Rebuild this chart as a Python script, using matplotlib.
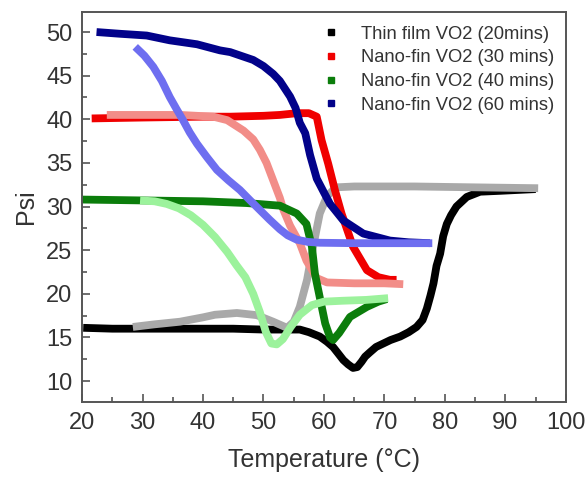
import matplotlib
matplotlib.use("Agg")
import matplotlib.pyplot as plt
from matplotlib.lines import Line2D
from matplotlib.ticker import MultipleLocator

plt.rcParams['font.family'] = ['Liberation Sans', 'DejaVu Sans']

# Thin film VO2 (20 mins) - heating (black) / cooling (gray)
tf_heat_x = [20.2, 25, 30, 35, 40, 45, 50, 54, 56.0, 57.5, 59.3, 60.5, 61.5, 62.3, 63.2, 64.0, 64.8, 65.5, 66.2,
             66.8, 67.6, 68.6, 69.8, 71.0, 72.6, 74.0, 75.3, 76.3, 77.0, 77.6, 78.1, 78.6, 79.2, 79.7, 80.3,
             81.0, 81.9, 83.6, 85.8, 89.1, 92.0, 95.0]
tf_heat_y = [16.1, 16.0, 16.0, 16.0, 16.0, 16.0, 15.9, 15.9, 15.9, 15.6, 15.1, 14.5, 13.9, 13.2, 12.4, 11.9, 11.5, 11.6, 12.2,
             12.8, 13.3, 13.9, 14.3, 14.7, 15.1, 15.6, 16.2, 17.0, 18.3, 19.8, 21.2, 23.2, 24.6, 26.6, 28.0,
             29.0, 30.0, 31.1, 31.7, 31.8, 31.9, 32.0]
tf_cool_x = [28.4, 32, 36.2, 40, 42, 45.6, 48.9, 51.6, 53.9, 55.0, 56.0, 57.2, 58.2, 59.3, 60.5, 62.0, 65, 75, 85, 95.4]
tf_cool_y = [16.2, 16.5, 16.8, 17.3, 17.6, 17.8, 17.55, 16.8, 16.1, 16.8, 18.5, 21.6, 25.4, 29.2, 31.2, 32.2, 32.3, 32.3, 32.2, 32.1]

# Nano-fin VO2 (30 mins) - heating (red) / cooling (salmon)
nf30_heat_x = [21.6, 30, 40, 44.5, 50, 52.7, 55.5, 57.5, 58.8, 59.6, 60.7, 61.8, 62.9, 64.8, 67.1, 69.0, 70.9, 72.0]
nf30_heat_y = [40.1, 40.2, 40.3, 40.3, 40.4, 40.5, 40.7, 40.7, 40.3, 37.6, 34.9, 31.9, 29.2, 25.4, 22.7, 21.9, 21.6, 21.6]
nf30_cool_x = [24.1, 30, 36.2, 41.7, 44.0, 46.7, 48.3, 49.4, 50.5, 51.6, 52.7, 53.3, 54.4, 56.0, 57.1, 58.8, 60.5, 65, 70, 73.1]
nf30_cool_y = [40.5, 40.5, 40.5, 40.3, 39.9, 38.7, 37.7, 36.5, 35.0, 33.0, 31.0, 29.6, 27.8, 25.8, 23.8, 21.8, 21.3, 21.2, 21.2, 21.1]

# Nano-fin VO2 (40 mins) - heating (green) / cooling (light green)
nf40_heat_x = [20.0, 30, 40, 47.2, 52.7, 55.5, 57.1, 58.0, 58.5, 59.3, 60.2, 61.0, 61.5, 62.5, 64.3, 67.1, 69.0, 70.4]
nf40_heat_y = [30.8, 30.7, 30.6, 30.4, 30.1, 29.2, 28.0, 25.4, 22.3, 19.6, 16.6, 15.0, 14.7, 15.5, 17.35, 18.5, 19.1, 19.4]
nf40_cool_x = [29.6, 32.0, 34.0, 36.0, 38.0, 40.0, 42.0, 44.0, 45.5, 47.0, 48.3, 49.4, 50.4, 51.3, 52.2, 53.2, 54.5, 56.0, 58.0, 60.0, 63, 67, 70.6]
nf40_cool_y = [30.7, 30.6, 30.3, 29.8, 29.0, 27.9, 26.5, 24.8, 23.3, 21.9, 20.0, 17.9, 15.6, 14.3, 14.2, 14.8, 16.2, 17.6, 18.7, 19.1, 19.2, 19.3, 19.5]

# Nano-fin VO2 (60 mins) - heating (dark blue) / cooling (light blue)
nf60_heat_x = [22.4, 26.3, 30.7, 34.5, 39.0, 42.8, 44.5, 48.3, 50.0, 51.6, 52.7, 54.4, 55.3, 56.0, 56.9, 57.7, 58.8,
               60.0, 61.0, 63.2, 66.5, 70.9, 74.0, 77.5]
nf60_heat_y = [50.0, 49.8, 49.6, 49.05, 48.6, 47.9, 47.7, 46.8, 46.1, 45.2, 44.4, 42.6, 41.3, 39.6, 38.4, 35.9, 33.2,
               31.6, 30.3, 28.4, 26.9, 26.1, 25.9, 25.8]
nf60_cool_x = [28.8, 30.3, 31.8, 33.2, 34.5, 35.6, 36.7, 37.8, 39.0, 40.6, 42.3, 44.2, 46.1, 47.8, 49.4, 51.0, 52.7, 54.0, 55.5, 57.3, 59.3, 65, 70, 77.9]
nf60_cool_y = [48.3, 47.3, 46.0, 44.4, 42.55, 41.2, 39.9, 38.5, 37.2, 35.7, 34.2, 33.0, 31.9, 30.7, 29.6, 28.5, 27.4, 26.7, 26.2, 25.95, 25.85, 25.8, 25.8, 25.8]

legend_labels = ["Thin film VO2 (20mins)", "Nano-fin VO2 (30 mins)",
                 "Nano-fin VO2 (40 mins)", "Nano-fin VO2 (60 mins)"]
x_ticks = [20, 30, 40, 50, 60, 70, 80, 90, 100]
y_ticks = [10, 15, 20, 25, 30, 35, 40, 45, 50]

c_black, c_gray = "#000000", "#a9a9a9"
c_red, c_salmon = "#f00000", "#f28d88"
c_green, c_lgreen = "#0b7d0b", "#9cf29c"
c_blue, c_lblue = "#02028a", "#6e6ef0"
text_color = "#333333"
spine_color = "#555555"

fig = plt.figure(figsize=(5.87, 4.79), dpi=100)
ax = fig.add_axes([0.1397, 0.1608, 0.8245, 0.8142])

lw = 5.6
kw = dict(linewidth=lw, solid_capstyle='butt', solid_joinstyle='round')
ax.plot(tf_heat_x, tf_heat_y, color=c_black, **kw)
ax.plot(tf_cool_x, tf_cool_y, color=c_gray, **kw)
ax.plot(nf30_heat_x, nf30_heat_y, color=c_red, **kw)
ax.plot(nf30_cool_x, nf30_cool_y, color=c_salmon, **kw)
ax.plot(nf40_heat_x, nf40_heat_y, color=c_green, **kw)
ax.plot(nf40_cool_x, nf40_cool_y, color=c_lgreen, **kw)
ax.plot(nf60_heat_x, nf60_heat_y, color=c_blue, **kw)
ax.plot(nf60_cool_x, nf60_cool_y, color=c_lblue, **kw)

ax.set_xlim(20, 100)
ax.set_ylim(7.6, 52.3)
ax.set_xticks(x_ticks)
ax.set_yticks(y_ticks)
ax.xaxis.set_minor_locator(MultipleLocator(5))
ax.yaxis.set_minor_locator(MultipleLocator(2.5))
ax.tick_params(which='both', direction='in', top=False, right=False,
               color=spine_color, width=1.2, labelsize=17, labelcolor=text_color, pad=7)
ax.tick_params(which='major', length=6)
ax.tick_params(which='minor', length=3.5)
for s in ax.spines.values():
    s.set_color(spine_color)
    s.set_linewidth(1.4)

ax.set_xlabel("Temperature (°C)", fontsize=18, color=text_color, labelpad=10)
ax.set_ylabel("Psi", fontsize=18, color=text_color, labelpad=6)

handles = [Line2D([], [], marker='s', linestyle='None', markersize=5, color=c)
           for c in (c_black, c_red, c_green, c_blue)]
leg = ax.legend(handles, legend_labels, loc='upper left', bbox_to_anchor=(0.468, 1.0),
                frameon=False, fontsize=13.2, handlelength=1.0, handletextpad=1.1,
                labelspacing=0.36, borderaxespad=0.35, labelcolor=text_color)

fig.savefig("out.png", dpi=100)
